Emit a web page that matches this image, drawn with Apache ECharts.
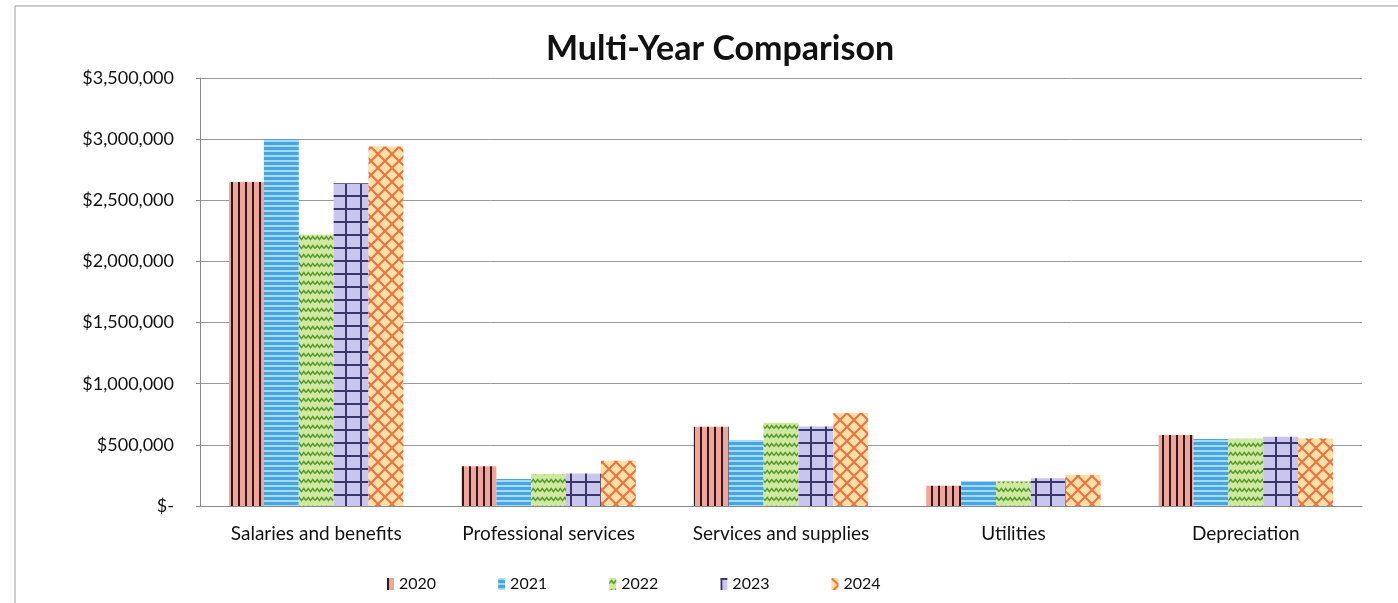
<!DOCTYPE html>
<html>
<head>
<meta charset="utf-8">
<script src="https://cdn.jsdelivr.net/npm/echarts@6/dist/echarts.min.js"></script>
<style>
  html, body { margin: 0; padding: 0; background: #fff; }
  #main { width: 1398px; height: 603px; }
</style>
</head>
<body>
<div id="main"></div>
<script>
const categories = ['Salaries and benefits', 'Professional services', 'Services and supplies', 'Utilities', 'Depreciation'];
const years = ['2020', '2021', '2022', '2023', '2024'];
const v2020 = [2650000, 325000, 648000, 166000, 580000];
const v2021 = [3000000, 220000, 540000, 204000, 548000];
const v2022 = [2220000, 262000, 680000, 200000, 553000];
const v2023 = [2640000, 265000, 650000, 226000, 567000];
const v2024 = [2940000, 370000, 760000, 253000, 553000];
const yTicks = [0, 500000, 1000000, 1500000, 2000000, 2500000, 3000000, 3500000];

const FONT = 'Lato, "Open Sans", sans-serif';

// small canvas tiles used as fill patterns for the bars
function tile(w, h, draw) {
  const c = document.createElement('canvas');
  c.width = w; c.height = h;
  draw(c.getContext('2d'), w, h);
  return { image: c, repeat: 'repeat' };
}

const patterns = [
  // 2020: salmon with dark vertical lines
  tile(7, 7, (g, w, h) => {
    g.fillStyle = '#f2a49a'; g.fillRect(0, 0, w, h);
    g.fillStyle = '#2a1a1c'; g.fillRect(0, 0, 2, h);
  }),
  // 2021: blue with light horizontal stripes
  tile(5, 5, (g, w, h) => {
    g.fillStyle = '#45a6e4'; g.fillRect(0, 0, w, h);
    g.fillStyle = '#a9d9f6'; g.fillRect(0, 0, w, 2);
  }),
  // 2022: light green with dark green zigzag
  tile(9, 9, (g, w, h) => {
    g.fillStyle = '#cfeaa0'; g.fillRect(0, 0, w, h);
    g.strokeStyle = '#5a9a30'; g.lineWidth = 1.6;
    g.beginPath();
    g.moveTo(0, 5.5); g.lineTo(2.25, 2.5); g.lineTo(4.5, 5.5); g.lineTo(6.75, 2.5); g.lineTo(9, 5.5);
    g.stroke();
  }),
  // 2023: lavender with navy grid
  tile(15, 13, (g, w, h) => {
    g.fillStyle = '#c9c6ee'; g.fillRect(0, 0, w, h);
    g.fillStyle = '#393769';
    g.fillRect(0, 0, 2, h);
    g.fillRect(0, 0, w, 2);
  }),
  // 2024: peach with orange diamond lattice
  tile(14, 14, (g, w, h) => {
    g.fillStyle = '#fde1a4'; g.fillRect(0, 0, w, h);
    g.strokeStyle = '#ef6f45'; g.lineWidth = 2;
    g.beginPath();
    g.moveTo(0, 0); g.lineTo(w, h);
    g.moveTo(w, 0); g.lineTo(0, h);
    g.stroke();
  })
];

const seriesValues = [v2020, v2021, v2022, v2023, v2024];

function money(v) {
  if (v === 0) return '$-';
  return '$' + v.toLocaleString('en-US');
}

const chart = echarts.init(document.getElementById('main'), null, { renderer: 'canvas' });

chart.setOption({
  backgroundColor: '#fff',
  animation: false,
  graphic: [{
    type: 'rect',
    shape: { x: 15, y: 6, width: 1500, height: 700 },
    style: { fill: 'none', stroke: '#999', lineWidth: 1 },
    silent: true
  }],
  title: {
    text: 'Multi-Year Comparison',
    left: 541,
    top: 27,
    textStyle: { fontFamily: FONT, fontSize: 34, fontWeight: 'bold', color: '#111' }
  },
  legend: {
    left: 382,
    top: 571,
    itemWidth: 7,
    itemHeight: 12,
    itemGap: 62,
    icon: 'rect',
    textStyle: { fontFamily: FONT, fontSize: 16, color: '#111' },
    data: years
  },
  grid: { left: 200, right: 36, top: 78, bottom: 97, containLabel: false },
  xAxis: {
    type: 'category',
    data: categories,
    axisLine: { show: true, lineStyle: { color: '#8a8a8a', width: 1 } },
    axisTick: { show: false },
    axisLabel: { margin: 18, fontFamily: FONT, fontSize: 19, color: '#111' }
  },
  yAxis: {
    type: 'value',
    min: yTicks[0],
    max: yTicks[yTicks.length - 1],
    interval: yTicks[1] - yTicks[0],
    axisLine: { show: true, lineStyle: { color: '#8a8a8a', width: 1 } },
    axisTick: { show: true, length: 4, lineStyle: { color: '#8a8a8a' } },
    splitLine: { show: true, lineStyle: { color: '#9a9a9a', width: 1 } },
    axisLabel: { margin: 26, fontFamily: FONT, fontSize: 18, color: '#111', formatter: money }
  },
  series: years.map((y, i) => ({
    name: y,
    type: 'bar',
    data: seriesValues[i],
    barGap: '0%',
    barCategoryGap: '25%',
    itemStyle: { color: patterns[i] }
  }))
});
</script>
</body>
</html>
